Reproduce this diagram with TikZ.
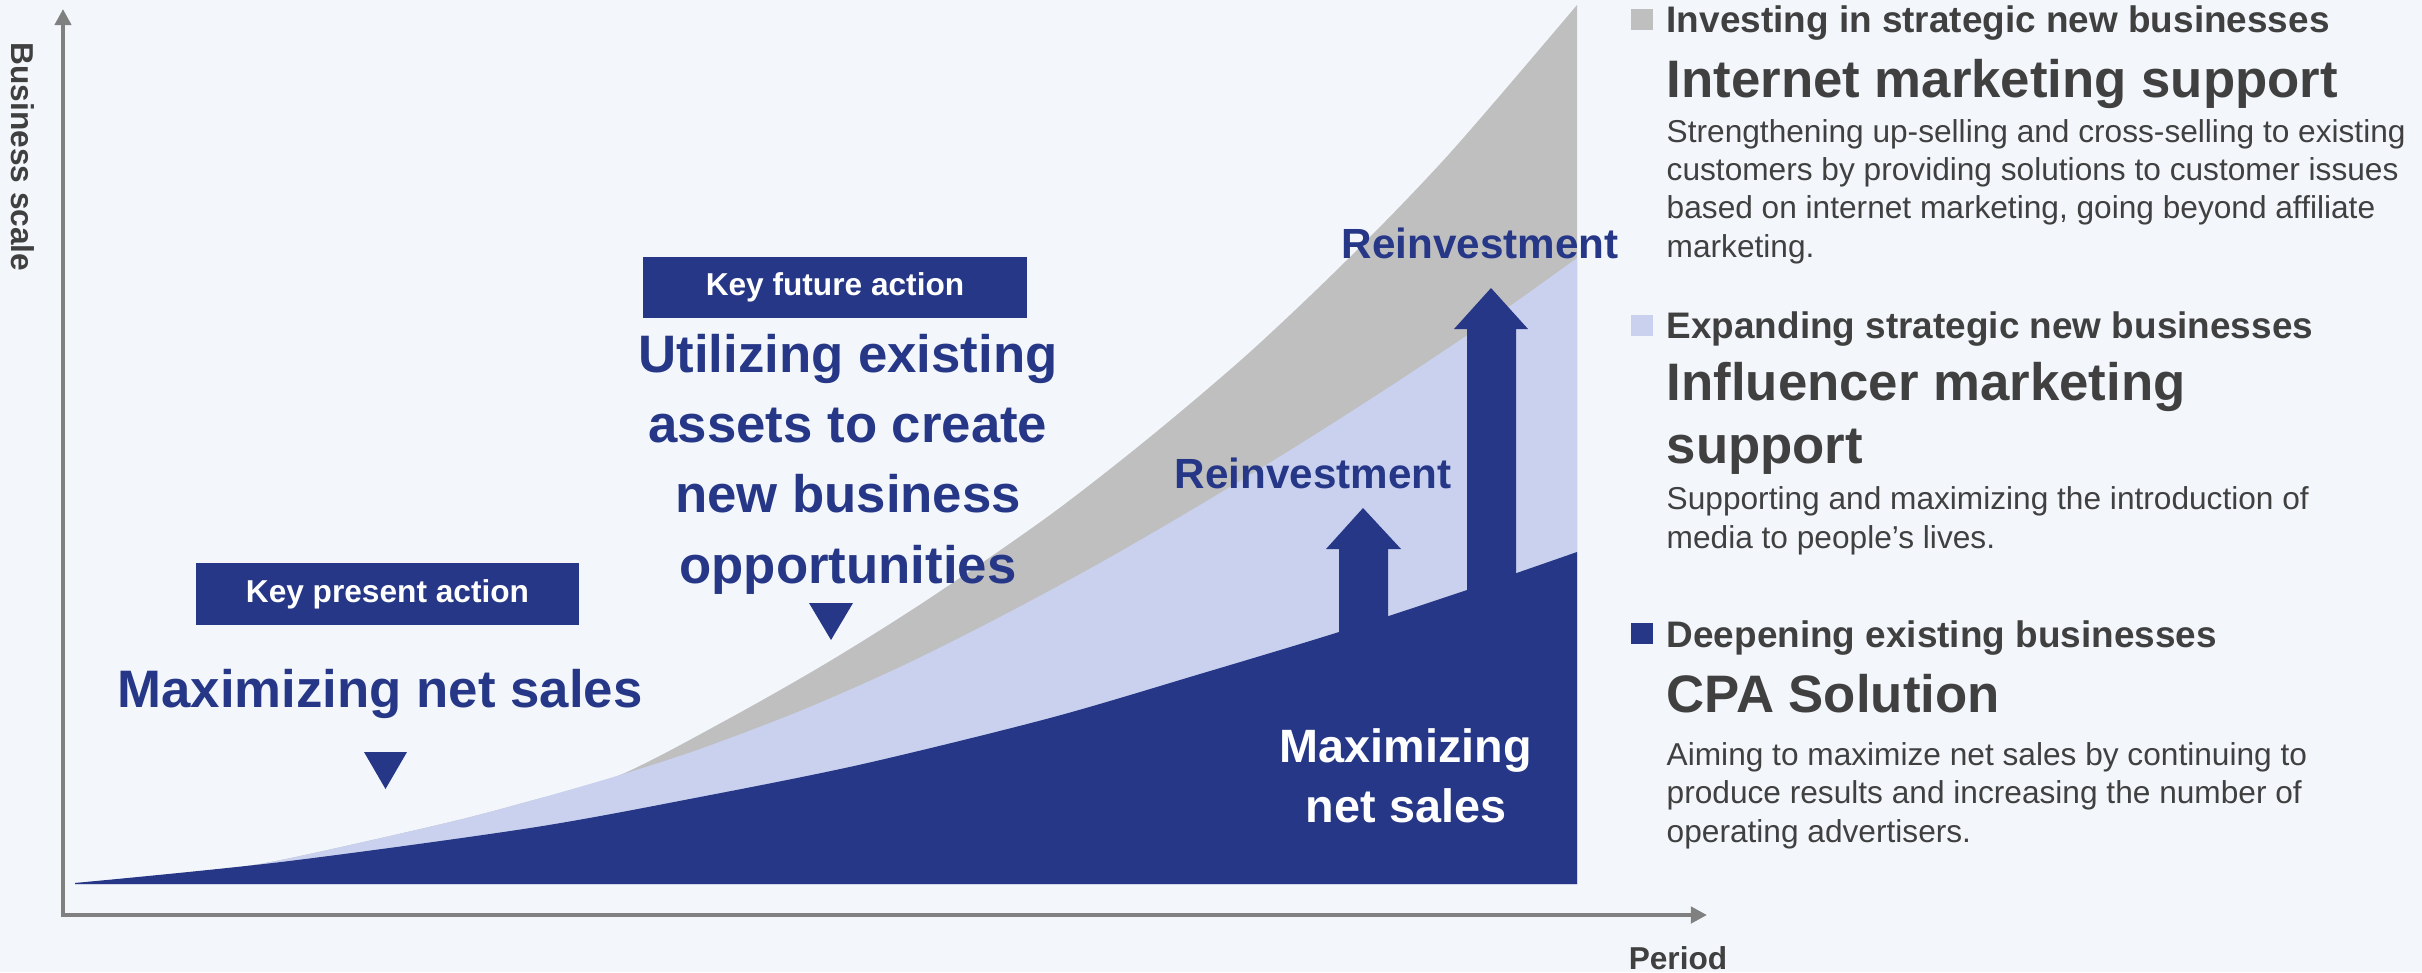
\documentclass[tikz,border=0pt]{standalone}
\usepackage{fontspec}
\setmainfont{Liberation Sans}
\usetikzlibrary{arrows.meta, positioning}
\definecolor{navy}{RGB}{37,55,134}
\definecolor{paleblue}{RGB}{201,209,238}
\definecolor{midgray}{RGB}{191,191,191}
\definecolor{axisgray}{RGB}{128,128,128}
\definecolor{ink}{RGB}{64,64,64}
\definecolor{backdrop}{RGB}{243,247,252}

\begin{document}
\begin{tikzpicture}[x=0.01cm, y=-0.01cm, every node/.style={inner sep=0pt},
   keybox/.style={fill=navy, text=white, minimum width=3.83cm,
                  minimum height=0.61cm, font=\fontsize{9}{11}\selectfont\bfseries},
   headline/.style={text=navy, align=center, anchor=base,
                    font=\fontsize{15}{20}\selectfont\bfseries},
   reinvest/.style={text=navy, anchor=base, font=\fontsize{12}{14}\selectfont\bfseries},
   axis/.style={axisgray, line width=1.15pt,
                {Triangle[length=4.6pt,width=4.6pt]}-{Triangle[length=4.6pt,width=4.6pt]}},
   axislabel/.style={text=ink, font=\fontsize{9}{11}\selectfont\bfseries},
   swatch/.style={minimum width=0.22cm, minimum height=0.21cm},
   legendhead/.style={text=ink, anchor=base west, font=\fontsize{10.5}{12.6}\selectfont\bfseries},
   legendtitle/.style={text=ink, anchor=base west, align=left,
                       font=\fontsize{15}{17.9}\selectfont\bfseries},
   legendbody/.style={text=ink, anchor=base west, align=left,
                      font=\fontsize{9}{10.9}\selectfont}]
  \fill[backdrop] (0,0) rectangle (2422,972);

  % growth bands, widest first (multi-line nodes below sit on their last baseline)
  \fill[midgray] plot[smooth] coordinates {(75,883) (200,872) (281,860) (446,823)
      (530,801) (620,775) (730,718) (830,661) (930,598) (1050,515) (1150,437)
      (1250,352) (1350,257) (1450,153) (1577,5)}
      -- (1577,884) -- (75,884) -- cycle;
  \fill[paleblue] plot[smooth] coordinates {(75,883) (200,872) (281,860) (446,823)
      (530,801) (620,775) (700,749) (800,711) (900,667) (1000,617) (1100,563)
      (1200,505) (1300,444) (1400,380) (1500,313) (1577,258)}
      -- (1577,884) -- (75,884) -- cycle;
  \fill[navy] plot[smooth] coordinates {(75,883) (281,862) (530,828) (700,797)
      (863,764) (1050,718) (1200,674) (1339,632) (1467,590) (1577,552)}
      -- (1577,884) -- (75,884) -- cycle;

  % reinvestment arrows
  \fill[navy] (1339,660) -- (1339,549) -- (1326,549) -- (1363,508)
      -- (1401,549) -- (1388,549) -- (1388,660) -- cycle;
  \fill[navy] (1467,640) -- (1467,329) -- (1454,329) -- (1491,288)
      -- (1528,329) -- (1516,329) -- (1516,640) -- cycle;

  % axes
  \coordinate (origin) at (63,915);
  \coordinate (ytip) at (63,9);
  \coordinate (xtip) at (1707,915);
  \draw[axis] (ytip) -- (origin) -- (xtip);
  \node[axislabel, rotate=-90] (yname) at (23,157) {Business scale};
  \node[axislabel, anchor=base] (xname) at (1678,969) {Period};

  % present and future actions
  \node[keybox] (nowtag) at (387.5,594) {Key present action};
  \node[headline] (nowaim) at (380,707) {Maximizing net sales};
  \fill[navy] (364,752) -- (407,752) -- (385.5,789) -- cycle;

  \node[keybox] (futuretag) at (835,287.5) {Key future action};
  \node[headline] (futureaim) at (848,583)
       {Utilizing existing\\assets to create\\new business\\opportunities};
  \fill[navy] (809,603) -- (853,603) -- (831,640) -- cycle;

  \node[reinvest] (reinvlow) at (1313,488) {Reinvestment};
  \node[reinvest] (reinvhigh) at (1480,258) {Reinvestment};
  \node[anchor=base, align=center, text=white,
        font=\fontsize{13.3}{16.8}\selectfont\bfseries] (coreaim) at (1406,822)
       {Maximizing\\net sales};

  % legend column
  \node[swatch, fill=midgray] (sw1) at (1642,19) {};
  \node[legendhead] (h1) at (1666,32) {Investing in strategic new businesses};
  \node[legendtitle] (t1) at (1666,97) {Internet marketing support};
  \node[legendbody] (b1) at (1666,257)
       {Strengthening up-selling and cross-selling to existing\\
        customers by providing solutions to customer issues\\
        based on internet marketing, going beyond affiliate\\marketing.};

  \node[swatch, fill=paleblue] (sw2) at (1642,325) {};
  \node[legendhead] (h2) at (1666,338) {Expanding strategic new businesses};
  \node[legendtitle] (t2) at (1666,463) {Influencer marketing\\support};
  \node[legendbody] (b2) at (1666,548)
       {Supporting and maximizing the introduction of\\media to people’s lives.};

  \node[swatch, fill=navy] (sw3) at (1642,633.5) {};
  \node[legendhead] (h3) at (1666,647) {Deepening existing businesses};
  \node[legendtitle] (t3) at (1666,712) {CPA Solution};
  \node[legendbody] (b3) at (1666,842)
       {Aiming to maximize net sales by continuing to\\
        produce results and increasing the number of\\operating advertisers.};
\end{tikzpicture}
\end{document}
